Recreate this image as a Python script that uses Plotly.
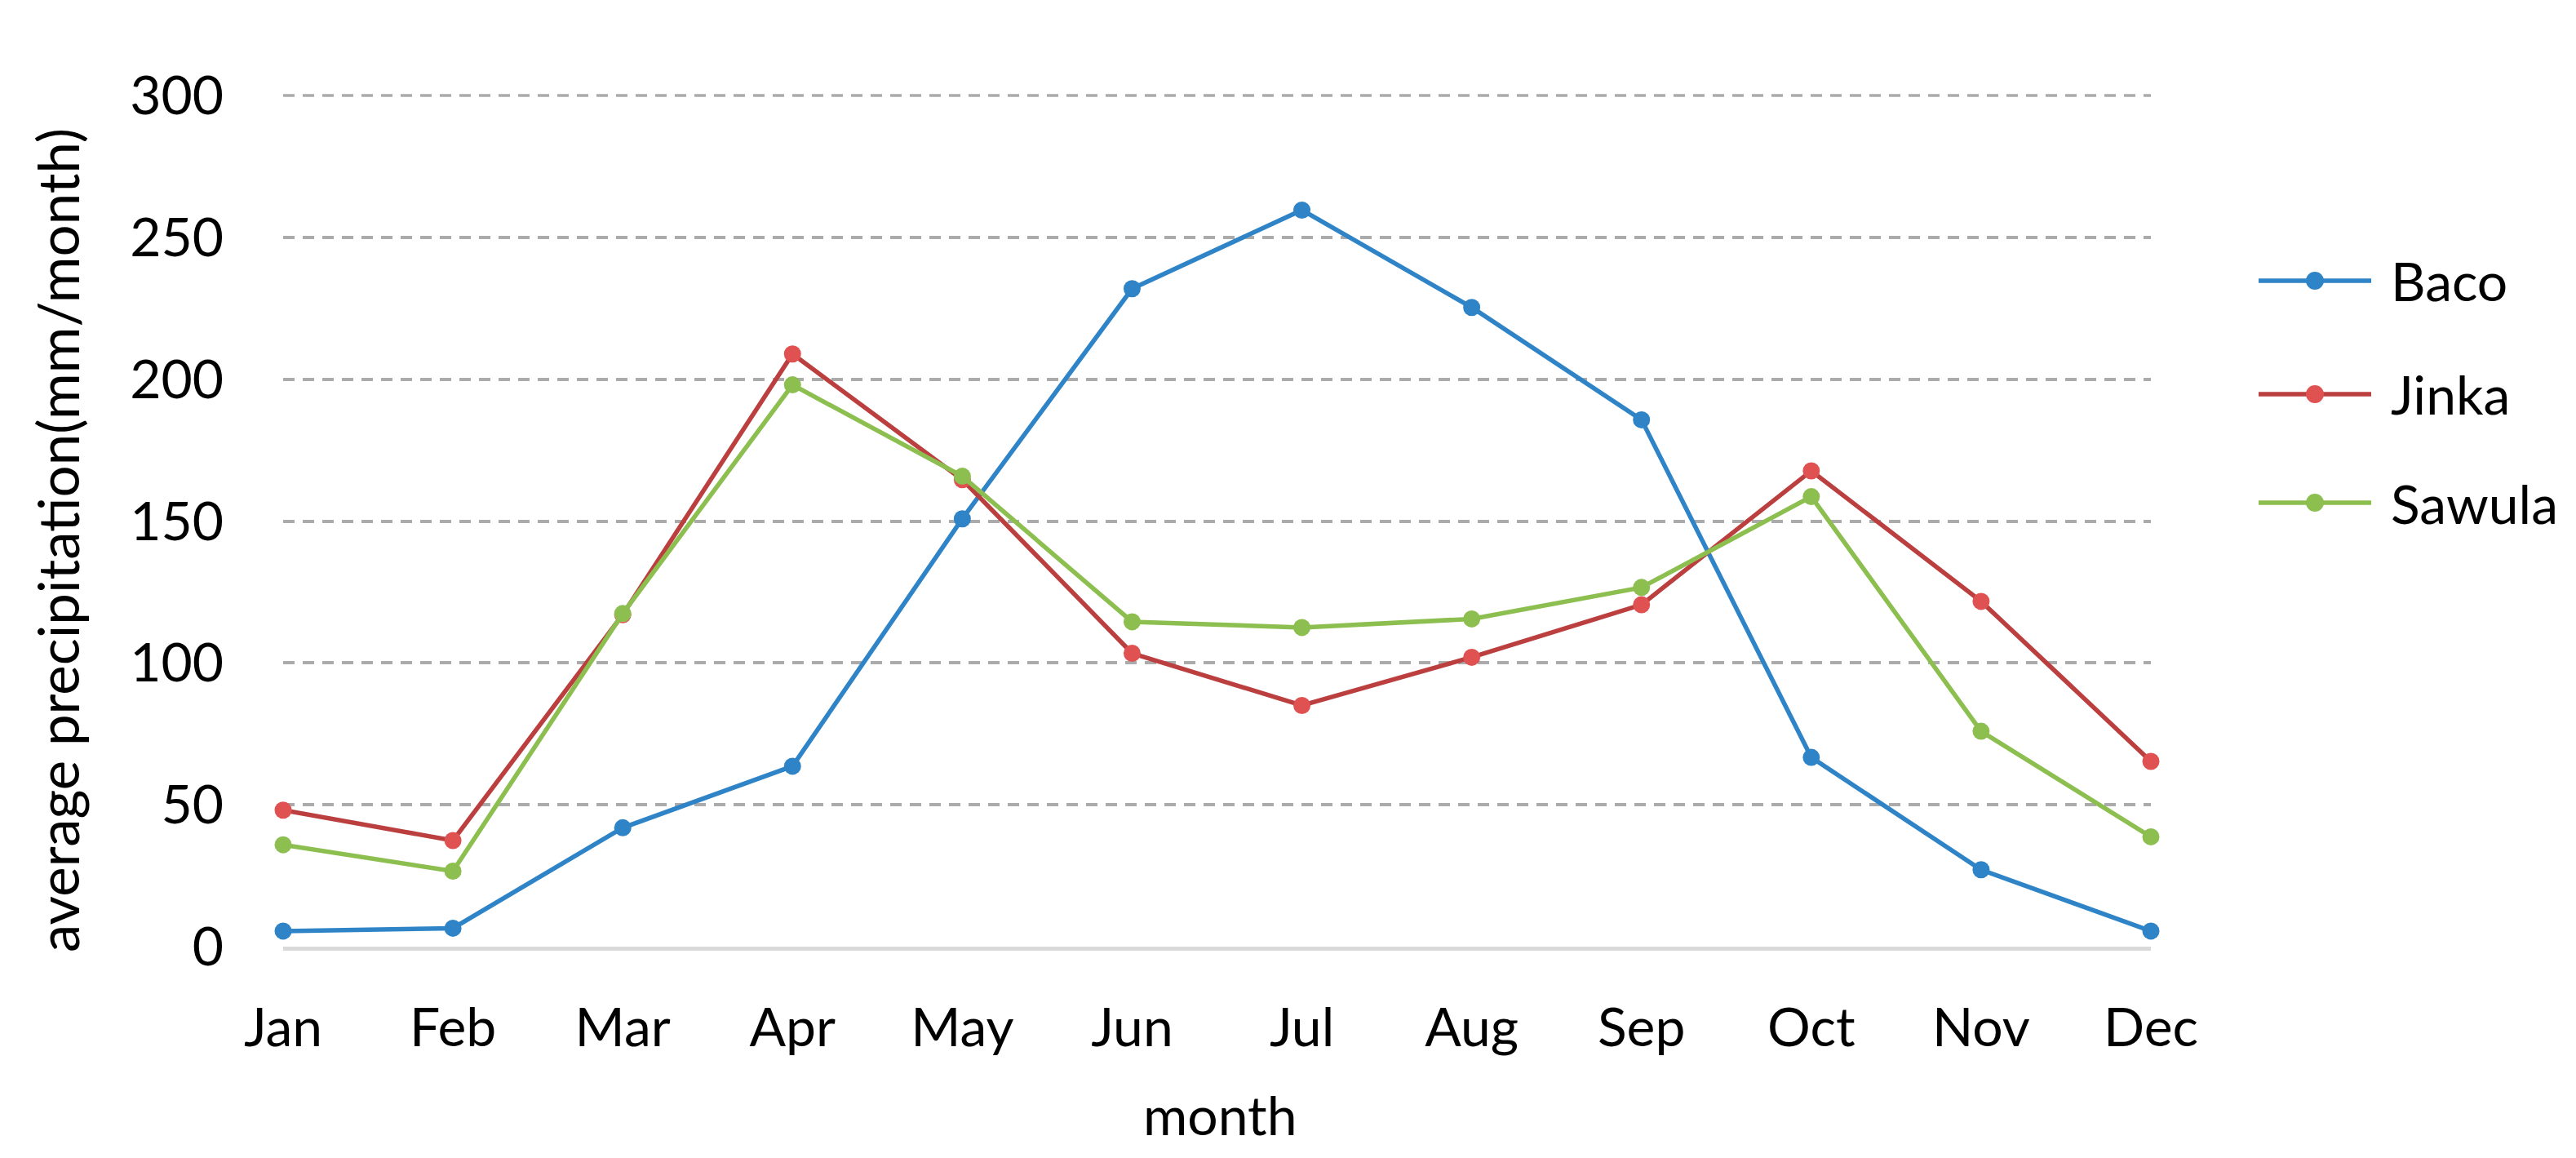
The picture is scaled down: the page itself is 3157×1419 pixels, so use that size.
import plotly.graph_objects as go

months = ["Jan", "Feb", "Mar", "Apr", "May", "Jun", "Jul", "Aug", "Sep", "Oct", "Nov", "Dec"]
baco = [5.5, 6.5, 41.9, 63.6, 150.8, 231.9, 259.6, 225.3, 185.7, 66.7, 27.1, 5.5]
jinka = [48.1, 37.4, 117.0, 208.9, 164.6, 103.4, 85.0, 102.0, 120.5, 167.7, 121.7, 65.3]
sawula = [35.9, 26.6, 117.4, 198.0, 165.8, 114.5, 112.5, 115.5, 126.6, 158.6, 75.9, 38.7]
y_ticks = [0, 50, 100, 150, 200, 250, 300]

series = [
    ("Baco", baco, "#2E84C6", "#2E84C6"),
    ("Jinka", jinka, "#BC3F3F", "#E05252"),
    ("Sawula", sawula, "#8CBF4F", "#8CBF4F"),
]

W, H = 3157, 1419
L, R, T, B = 339, 529, 109, 267
PW, PH = W - L - R, H - T - B

FONT = "Lato"
FS = 66

fig = go.Figure()
for name, vals, lc, mc in series:
    fig.add_trace(go.Scatter(
        x=list(range(len(months))), y=vals, name=name, mode="lines+markers",
        line=dict(color=lc, width=5.5),
        marker=dict(color=mc, size=21, symbol="circle"),
        showlegend=False, cliponaxis=False,
    ))

def px_x(px):
    return (px - L) / PW

def px_y(py):
    return (H - B - py) / PH

# top gridline (at the upper edge of the y range, value y_ticks[-1])
shapes = [dict(type="line", xref="paper", yref="paper", x0=0, x1=1, y0=1, y1=1,
               line=dict(color="#ABABAB", width=3.5, dash="14px,10px"), layer="below")]
annotations = []
leg_rows = [336, 475, 608]
for (name, vals, lc, mc), ry in zip(series, leg_rows):
    shapes.append(dict(type="line", xref="paper", yref="paper",
                       x0=px_x(2760), x1=px_x(2898), y0=px_y(ry), y1=px_y(ry),
                       line=dict(color=lc, width=5.5)))
    shapes.append(dict(type="circle", xref="paper", yref="paper",
                       x0=px_x(2818), x1=px_x(2840), y0=px_y(ry - 11), y1=px_y(ry + 11),
                       fillcolor=mc, line=dict(color=mc, width=0)))
    annotations.append(dict(text=name, xref="paper", yref="paper",
                            x=px_x(2920), y=px_y(ry), xanchor="left", yanchor="middle",
                            showarrow=False, font=dict(family=FONT, size=FS, color="#000000")))

annotations.append(dict(text="average precipitation(mm/month)", xref="paper", yref="paper",
                        x=px_x(62), y=px_y(654), textangle=-90, xanchor="center", yanchor="middle",
                        showarrow=False, font=dict(family=FONT, size=69, color="#000000")))
annotations.append(dict(text="month", xref="paper", yref="paper",
                        x=px_x(1487), y=px_y(1357), xanchor="center", yanchor="middle",
                        showarrow=False, font=dict(family=FONT, size=FS, color="#000000")))

fig.update_layout(
    width=W, height=H,
    margin=dict(l=L, r=R, t=T, b=B, autoexpand=False),
    paper_bgcolor="white", plot_bgcolor="white",
    font=dict(family=FONT, size=FS, color="#000000"),
    shapes=shapes, annotations=annotations,
    showlegend=False,
)
fig.update_xaxes(
    range=[0, 11], tickvals=list(range(len(months))), ticktext=months,
    showgrid=False, zeroline=False, showline=True, linecolor="#D9D9D9", linewidth=5,
    ticks="", ticklabelstandoff=38, tickfont=dict(family=FONT, size=FS, color="#000000"),
    automargin=False,
)
fig.update_yaxes(
    range=[0, 300], tickvals=y_ticks, ticktext=[str(v) for v in y_ticks],
    showgrid=True, gridcolor="#ABABAB", gridwidth=3.5, griddash="14px,10px",
    zeroline=False, showline=False, ticks="", ticklabelstandoff=72,
    tickfont=dict(family=FONT, size=FS, color="#000000"),
    automargin=False,
)

fig.write_html("out.html")
